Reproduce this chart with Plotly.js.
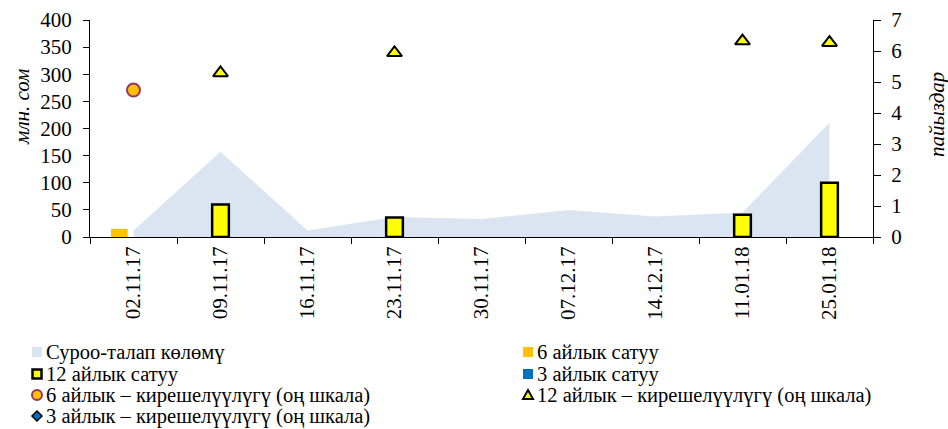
<!DOCTYPE html>
<html>
<head>
<meta charset="utf-8">
<script src="https://cdn.plot.ly/plotly-3.0.1.min.js"></script>
<style>html,body{margin:0;padding:0;background:#fff;}#chart{width:948px;height:429px;}</style>
</head>
<body>
<div id="chart"></div>
<script>
const categories = ['02.11.17','09.11.17','16.11.17','23.11.17','30.11.17','07.12.17','14.12.17','11.01.18','25.01.18'];
const demand = [12, 157, 12, 37, 33, 50, 38, 45, 211];
const sale6 = [15, null, null, null, null, null, null, null, null];
const sale12 = [null, 60, null, 36, null, null, null, 41, 100];
const sale3 = [null, null, null, null, null, null, null, null, null];
const yield6 = [4.74, null, null, null, null, null, null, null, null];
const yield12 = [null, 5.29, null, 5.94, null, null, null, 6.32, 6.27];
const yield3 = [null, null, null, null, null, null, null, null, null];

const legendLabels = ['Суроо-талап көлөмү', '6 айлык сатуу', '12 айлык сатуу', '3 айлык сатуу',
  '6 айлык – кирешелүүлүгү (оң шкала)', '12 айлык – кирешелүүлүгү (оң шкала)',
  '3 айлык – кирешелүүлүгү (оң шкала)'];

const FONT = 'Liberation Serif';
const W = 948, H = 429;
const px = v => v / W;
const py = v => (H - v) / H;

const BW = 0.192; // bar width in category units
const traces = [
  {type:'scatter', x:categories, y:demand, name:legendLabels[0], mode:'none', fill:'tozeroy',
   fillcolor:'#dbe5f1', xaxis:'x', yaxis:'y', hoverinfo:'skip'},
  {type:'bar', x:categories, y:sale6, name:legendLabels[1], xaxis:'x', yaxis:'y3',
   width:BW, offset:-0.163 - BW/2, marker:{color:'#ffc000', line:{width:0}}},
  {type:'bar', x:categories, y:sale12, name:legendLabels[2], xaxis:'x', yaxis:'y3',
   width:BW, offset:-BW/2, marker:{color:'#ffff00', line:{width:2.5, color:'#000'}}},
  {type:'bar', x:categories, y:sale3, name:legendLabels[3], xaxis:'x', yaxis:'y3',
   width:BW, offset:0.163 - BW/2, marker:{color:'#0070c0', line:{width:0}}},
  {type:'scatter', x:categories, y:yield6, name:legendLabels[4], mode:'markers', xaxis:'x', yaxis:'y2',
   marker:{symbol:'circle', size:13, color:'#ffc000', line:{width:2, color:'#993366'}}},
  {type:'scatter', x:categories, y:yield12, name:legendLabels[5], mode:'markers', xaxis:'x', yaxis:'y2',
   marker:{symbol:'triangle-up', size:13, color:'#ffff00', line:{width:2, color:'#000'}}},
  {type:'scatter', x:categories, y:yield3, name:legendLabels[6], mode:'markers', xaxis:'x', yaxis:'y2',
   marker:{symbol:'diamond', size:10, color:'#0070c0', line:{width:1.5, color:'#000'}}}
];

// manual legend (two columns, Excel style)
const legendPos = [
  [37, 352], [528, 352], [37, 374], [528, 374], [37, 395], [528, 395], [37, 416]
];
const shapes = [];
const annotations = [];
function sq(cx, cy, s, fill, lineColor, lw) {
  shapes.push({type:'rect', xref:'paper', yref:'paper', x0:px(cx - s/2), x1:px(cx + s/2),
    y0:py(cy + s/2), y1:py(cy - s/2), fillcolor:fill,
    line:{color:lineColor || fill, width:lw || 0}});
}
function pathShape(pts, fill, lineColor, lw) {
  const d = pts.map((p, i) => (i ? 'L' : 'M') + px(p[0]).toFixed(5) + ',' + py(p[1]).toFixed(5)).join(' ') + ' Z';
  shapes.push({type:'path', xref:'paper', yref:'paper', path:d, fillcolor:fill, line:{color:lineColor, width:lw}});
}
legendPos.forEach((p, i) => {
  const [cx, cy] = p;
  if (i === 0) sq(cx, cy, 10, '#dbe5f1');
  if (i === 1) sq(cx, cy, 10, '#ffc000');
  if (i === 2) sq(cx, cy, 9, '#ffff00', '#000', 2.5);
  if (i === 3) sq(cx, cy, 10, '#0070c0');
  if (i === 4) shapes.push({type:'circle', xref:'paper', yref:'paper', x0:px(cx-5), x1:px(cx+5),
    y0:py(cy+5), y1:py(cy-5), fillcolor:'#ffc000', line:{color:'#993366', width:2}});
  if (i === 5) pathShape([[cx-5, cy+4], [cx+5, cy+4], [cx, cy-5]], '#ffff00', '#000', 2);
  if (i === 6) pathShape([[cx, cy-5], [cx+5, cy], [cx, cy+5], [cx-5, cy]], '#0070c0', '#000', 1.5);
  annotations.push({text:legendLabels[i], xref:'paper', yref:'paper', x:px(cx + 7), y:py(cy),
    xanchor:'left', yanchor:'middle', showarrow:false, font:{family:FONT, size:20.5, color:'#000'}});
});

annotations.push({text:'млн. сом', xref:'paper', yref:'paper', x:px(22), y:py(107), textangle:-90,
  showarrow:false, font:{family:FONT, size:21, style:'italic', color:'#000'}, xanchor:'center', yanchor:'middle'});
annotations.push({text:'пайыздар', xref:'paper', yref:'paper', x:px(937), y:py(115), textangle:-90,
  showarrow:false, font:{family:FONT, size:21, style:'italic', color:'#000'}, xanchor:'center', yanchor:'middle'});

const tickFont = {family:FONT, size:21, color:'#000'};
const layout = {
  width:W, height:H,
  margin:{l:0, r:0, t:0, b:0, pad:0, autoexpand:false},
  paper_bgcolor:'#fff', plot_bgcolor:'#fff',
  font:{family:FONT, size:21, color:'#000'},
  showlegend:false,
  barmode:'overlay',
  xaxis:{type:'category', domain:[px(90), px(873)], anchor:'y', tickangle:-90, ticks:'outside', ticklen:6,
    tickcolor:'#000', tickson:'boundaries', showline:true, linecolor:'#000', linewidth:1, showgrid:false,
    zeroline:false, tickfont:tickFont, range:[-0.5, 8.5]},
  yaxis:{domain:[py(237), py(20)], anchor:'x', range:[0,400], dtick:50, ticks:'outside', ticklen:6, tickcolor:'#000',
    showline:true, linecolor:'#000', showgrid:false, zeroline:false, tickfont:tickFont, ticklabelstandoff:7},
  yaxis3:{range:[0,400], overlaying:'y', anchor:'x', visible:false},
  yaxis2:{range:[0,7], dtick:1, overlaying:'y', anchor:'x', side:'right', ticks:'outside', ticklen:7,
    tickcolor:'#000', showline:true, linecolor:'#000', showgrid:false, zeroline:false, tickfont:tickFont,
    ticklabelstandoff:6},
  shapes: shapes,
  annotations: annotations
};

Plotly.newPlot('chart', traces, layout, {displayModeBar:false, staticPlot:true});
</script>
</body>
</html>
